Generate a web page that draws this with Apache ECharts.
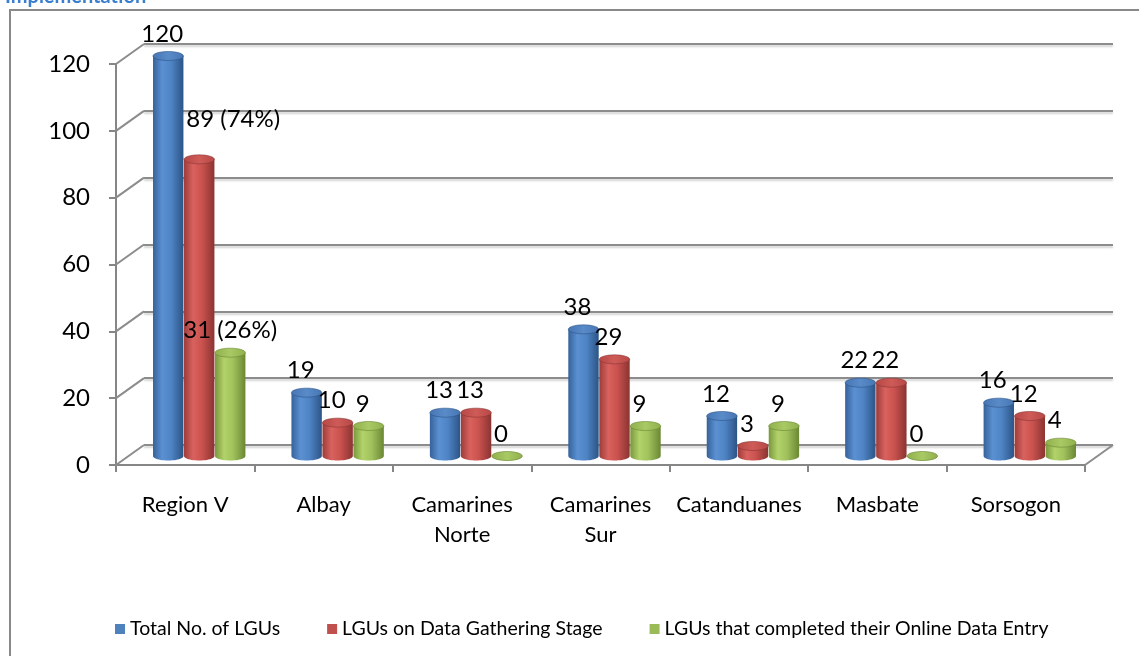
<!DOCTYPE html>
<html><head><meta charset="utf-8">
<script src="https://cdn.jsdelivr.net/npm/echarts@6/dist/echarts.min.js"></script>
<style>html,body{margin:0;padding:0;background:#fff}#c{width:1139px;height:656px}</style>
</head><body><div id="c"></div>
<script>
// ---- data ----
const categories = ['Region V', 'Albay', 'Camarines\nNorte', 'Camarines\nSur', 'Catanduanes', 'Masbate', 'Sorsogon'];
const seriesNames = ['Total No. of LGUs', 'LGUs on Data Gathering Stage', 'LGUs that completed their Online Data Entry'];
const totalLGUs = [120, 19, 13, 38, 12, 22, 16];
const dataGathering = [89, 10, 13, 29, 3, 22, 12];
const completedEntry = [31, 9, 0, 9, 9, 0, 4];
const totalLabels = ['120', '19', '13', '38', '12', '22', '16'];
const gatheringLabels = ['89 (74%)', '10', '13', '29', '3', '22', '12'];
const completedLabels = ['31 (26%)', '9', '0', '9', '9', '0', '4'];
const yTicks = [0, 20, 40, 60, 80, 100, 120];
const titleText = 'Implementation';

// ---- style / layout ----
const FONT = 'Lato, "Open Sans", sans-serif';
const AXIS_GREY = '#868686';
const DEPTH = [28, -20];
const FRONT = { left: 116, top: 64, width: 969, height: 401 };
const BACK = { left: FRONT.left + DEPTH[0], top: FRONT.top + DEPTH[1], width: FRONT.width, height: FRONT.height };
const BARS = { left: 130, top: 56, width: 969, height: 400 };
const BAR_W = 31, CAP_RY = 4.5;
const LABEL_DX = -6, LABEL_DY = -22;
const LABEL_NUDGE = { '1-0': [40, -18], '2-0': [6, 0] };
const PALETTE = [
  { base: '#4F81BD', body: ['#36629a', '#5b90d2', '#4e83c4', '#2c5486'], cap: ['#4675b2', '#5a8bc9'] },
  { base: '#C0504D', body: ['#9c3c3a', '#d9625f', '#c9514e', '#8a3432'], cap: ['#b54845', '#cf5b58'] },
  { base: '#9BBB59', body: ['#7a983d', '#b2d26a', '#a0c15c', '#6b8733'], cap: ['#8fb04c', '#a8c964'] }
];
const seriesValues = [totalLGUs, dataGathering, completedEntry];
const seriesLabels = [totalLabels, gatheringLabels, completedLabels];

function ellipsePts(cx, cy, rx, ry, a0, a1, n) {
  const pts = [];
  for (let i = 0; i <= n; i++) {
    const t = a0 + (a1 - a0) * i / n;
    pts.push([cx + rx * Math.cos(t), cy + ry * Math.sin(t)]);
  }
  return pts;
}

function makeCylinderSeries(k) {
  const pal = PALETTE[k];
  return {
    type: 'custom',
    name: seriesNames[k],
    xAxisIndex: 3, yAxisIndex: 2,
    itemStyle: { color: pal.base },
    z: 5,
    data: seriesValues[k].map((v, i) => [i, v]),
    renderItem: function (params, api) {
      const ci = api.value(0), v = api.value(1);
      const top = api.coord([ci, v]);
      const base = api.coord([ci, 0]);
      const cx = top[0] + (k - 1) * BAR_W;
      const rx = BAR_W / 2 - 0.3;
      const body = [[cx - rx, top[1]], [cx - rx, base[1]]]
        .concat(ellipsePts(cx, base[1], rx, CAP_RY, Math.PI, 0, 24))
        .concat([[cx + rx, top[1]]]);
      const cap = ellipsePts(cx, top[1], rx, CAP_RY, 0, Math.PI * 2, 40);
      const nudge = LABEL_NUDGE[k + '-' + params.dataIndex] || [0, 0];
      return {
        type: 'group',
        children: [
          { type: 'polygon', shape: { points: body },
            style: { fill: { type: 'linear', x: 0, y: 0, x2: 1, y2: 0,
              colorStops: [{ offset: 0, color: pal.body[0] }, { offset: 0.3, color: pal.body[1] },
                           { offset: 0.6, color: pal.body[2] }, { offset: 1, color: pal.body[3] }] } } },
          { type: 'polygon', shape: { points: cap },
            style: { fill: { type: 'linear', x: 0, y: 0, x2: 1, y2: 0,
              colorStops: [{ offset: 0, color: pal.cap[0] }, { offset: 0.5, color: pal.cap[1] }, { offset: 1, color: pal.cap[0] }] },
              stroke: pal.body[3], lineWidth: 0.6 } },
          { type: 'text', z2: 50,
            x: cx + LABEL_DX + nudge[0], y: top[1] + LABEL_DY + nudge[1],
            style: { text: seriesLabels[k][params.dataIndex], fill: '#000', fontSize: 24, fontFamily: FONT,
              align: 'center', verticalAlign: 'middle' } }
        ]
      };
    }
  };
}

const chart = echarts.init(document.getElementById('c'));
const option = {
  backgroundColor: '#fff',
  animation: false,
  title: { text: titleText, left: 0, top: -18, textStyle: { color: '#3a7fcf', fontSize: 20, fontWeight: 'bold', fontFamily: FONT } },
  graphic: [{ type: 'rect', shape: { x: 10, y: 10, width: 1300, height: 800 }, style: { fill: 'none', stroke: '#898989', lineWidth: 2 }, z: -10 }],
  legend: {
    data: seriesNames, left: 110, top: 614, icon: 'rect', itemWidth: 10, itemHeight: 10, itemGap: 47,
    textStyle: { fontSize: 19.5, fontFamily: FONT, color: '#000' }
  },
  grid: [
    Object.assign({ containLabel: false }, BACK),
    Object.assign({ containLabel: false }, FRONT),
    Object.assign({ containLabel: false }, BARS)
  ],
  xAxis: [
    { type: 'category', gridIndex: 0, data: categories, show: false },
    { type: 'category', gridIndex: 1, data: categories,
      axisLine: { show: true, lineStyle: { color: AXIS_GREY, width: 2 } },
      axisTick: { show: true, length: 7, lineStyle: { color: AXIS_GREY, width: 2 } },
      axisLabel: { fontSize: 22, fontFamily: FONT, color: '#000', margin: 25, lineHeight: 30, interval: 0 } },
    { type: 'value', gridIndex: 1, min: 0, max: 1, show: false },
    { type: 'category', gridIndex: 2, data: categories, show: false }
  ],
  yAxis: [
    { type: 'value', gridIndex: 0, min: 0, max: 120, interval: 20,
      axisLine: { show: false }, axisTick: { show: false }, axisLabel: { show: false },
      splitLine: { show: true, lineStyle: { color: '#8c8c8c', width: 2, shadowColor: 'rgba(0,0,0,0.18)', shadowOffsetY: 2, shadowBlur: 2 } } },
    { type: 'value', gridIndex: 1, min: 0, max: 120, interval: 20,
      axisLine: { show: true, lineStyle: { color: AXIS_GREY, width: 2 } },
      axisTick: { show: true, length: 7, lineStyle: { color: AXIS_GREY, width: 2 } },
      axisLabel: { fontSize: 24, fontFamily: FONT, color: '#000', margin: 26 },
      splitLine: { show: false } },
    { type: 'value', gridIndex: 2, min: 0, max: 120, show: false }
  ],
  series: [
    { type: 'custom', name: 'connectors', xAxisIndex: 2, yAxisIndex: 1, silent: true, z: 1,
      data: yTicks.map(v => [0, v]).concat([[1, 0]]),
      renderItem: function (params, api) {
        const p = api.coord([api.value(0), api.value(1)]);
        return { type: 'line', shape: { x1: p[0], y1: p[1], x2: p[0] + DEPTH[0], y2: p[1] + DEPTH[1] },
          style: { stroke: '#8c8c8c', lineWidth: 2 } };
      } },
    makeCylinderSeries(0), makeCylinderSeries(1), makeCylinderSeries(2)
  ]
};
chart.setOption(option);
</script></body></html>
